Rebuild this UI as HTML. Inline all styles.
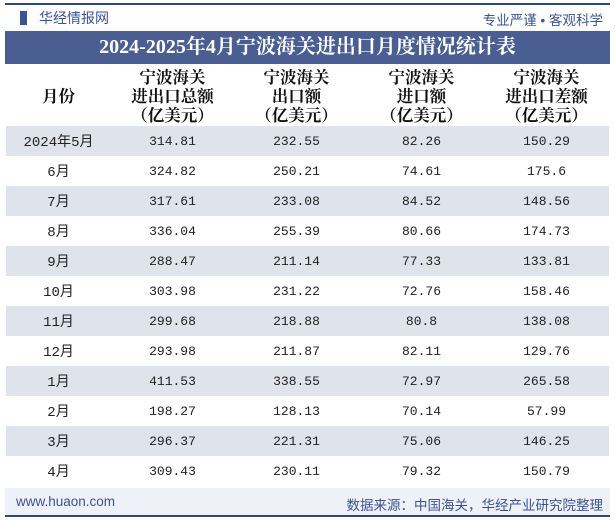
<!DOCTYPE html>
<html><head><meta charset="utf-8"><style>
body{margin:0;width:615px;height:520px;background:#fff;position:relative;overflow:hidden;font-family:"Liberation Sans","Noto Sans CJK SC",sans-serif}
.abs{position:absolute}
#topline{left:5px;top:3px;width:605px;height:2px;background:#34457a}
#botline{left:5px;top:515px;width:605px;height:2px;background:#34457a}
#brand{left:20px;top:8px;font-size:14px;color:#3d5390}
#slogan{right:12px;top:9px;font-size:13.5px;color:#3d5390}
#title{left:5px;top:31px;width:605px;height:33px;background:#4b5e92;color:#fff;font-family:"Liberation Serif","Noto Serif CJK SC",serif;font-weight:bold;font-size:20px;line-height:33px;text-align:center}
table{position:absolute;left:6px;top:64px;width:603px;border-collapse:collapse;font-size:13px}
th{font-family:"Noto Serif CJK SC",serif;font-weight:bold;font-size:16.5px;line-height:19px;height:62px;padding:0;color:#111}
td{height:30px;padding:0;text-align:center;font-family:"Liberation Mono","Noto Sans CJK SC",monospace;color:#222}
td:first-child{font-size:14px}
tr.s td{background:#dfe3ec}
#foot{left:5px;top:488px;width:605px;height:27px;background:#eef1f7}
#url{left:16px;top:494px;font-size:13.5px;color:#3d5390}
#src{right:12px;top:494px;font-size:13.5px;color:#3d5390}
</style></head><body>
<div class="abs" id="topline"></div>
<div class="abs" id="brand"><span style="display:inline-block;width:7px;height:14px;background:#3d5390;margin-right:12px;vertical-align:-2px"></span>华经情报网</div>
<div class="abs" id="slogan">专业严谨 • 客观科学</div>
<div class="abs" id="title">2024-2025年4月宁波海关进出口月度情况统计表</div>
<table>
<colgroup><col style="width:105px"><col style="width:123px"><col style="width:125px"><col style="width:125px"><col style="width:125px"></colgroup>
<tr><th>月份</th><th>宁波海关<br>进出口总额<br>（亿美元）</th><th>宁波海关<br>出口额<br>（亿美元）</th><th>宁波海关<br>进口额<br>（亿美元）</th><th>宁波海关<br>进出口差额<br>（亿美元）</th></tr>
<tbody id="tb"></tbody>
</table>
<div class="abs" id="foot"></div>
<div class="abs" id="url">www.huaon.com</div>
<div class="abs" id="src">数据来源：中国海关，华经产业研究院整理</div>
<div class="abs" id="botline"></div>
<script>
const months=["2024年5月","6月","7月","8月","9月","10月","11月","12月","1月","2月","3月","4月"];
const total=["314.81","324.82","317.61","336.04","288.47","303.98","299.68","293.98","411.53","198.27","296.37","309.43"];
const exportsV=["232.55","250.21","233.08","255.39","211.14","231.22","218.88","211.87","338.55","128.13","221.31","230.11"];
const importsV=["82.26","74.61","84.52","80.66","77.33","72.76","80.8","82.11","72.97","70.14","75.06","79.32"];
const balance=["150.29","175.6","148.56","174.73","133.81","158.46","138.08","129.76","265.58","57.99","146.25","150.79"];
const tb=document.getElementById('tb');
months.forEach((m,i)=>{
const tr=document.createElement('tr');


if(i%2===0)tr.className='s';
[m,total[i],exportsV[i],importsV[i],balance[i]].forEach(v=>{const td=document.createElement('td');td.textContent=v;tr.appendChild(td);});
tb.appendChild(tr);});
</script>
</body></html>
